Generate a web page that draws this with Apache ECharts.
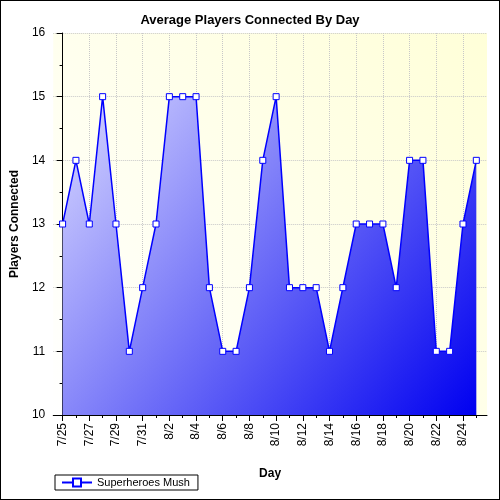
<!DOCTYPE html><html><head><meta charset="utf-8"><script src="https://cdn.jsdelivr.net/npm/echarts@6/dist/echarts.min.js"></script></head><body style="margin:0"><div id="c" style="width:500px;height:500px;box-sizing:border-box;border:1px solid #000"></div><script>
const days=['7/25','7/26','7/27','7/28','7/29','7/30','7/31','8/1','8/2','8/3','8/4','8/5','8/6','8/7','8/8','8/9','8/10','8/11','8/12','8/13','8/14','8/15','8/16','8/17','8/18','8/19','8/20','8/21','8/22','8/23','8/24','8/25'];
const players=[13,14,13,15,13,11,12,13,15,15,15,12,11,11,12,14,15,12,12,12,11,12,13,13,13,12,14,14,11,11,13,14];
const yTicks=[10,11,12,13,14,15,16];
const major=days.map((d,i)=>i).filter(i=>i%2===0);
const all=days.map((d,i)=>i);
const ch=echarts.init(document.getElementById('c'));
const font='Arial, Liberation Sans';
ch.setOption({
 animation:false,
 title:{text:'Average Players Connected By Day',left:'center',top:8,textStyle:{fontSize:13,fontWeight:'bold',color:'#000',fontFamily:font}},
 legend:{left:54,bottom:9,itemWidth:30,itemHeight:10,borderColor:'#000',borderWidth:1,borderRadius:0,padding:[2,8,2,6],textStyle:{fontSize:11,color:'#000',fontFamily:font},data:['Superheroes Mush']},
 grid:{left:51,right:12,top:32,bottom:84,show:true,borderWidth:0,
  backgroundColor:new echarts.graphic.LinearGradient(0,1,1,0,[{offset:0,color:'#ffffff'},{offset:1,color:'#ffffd8'}])},
 xAxis:[{type:'value',min:-0.7,max:31.8,name:'Day',nameLocation:'middle',nameGap:53,nameTextStyle:{fontSize:12,fontWeight:'bold',color:'#000',fontFamily:font},
  axisLine:{lineStyle:{color:'#000'}},
  axisTick:{customValues:major,length:6,lineStyle:{color:'#000'}},
  axisLabel:{customValues:major,formatter:v=>days[v],rotate:90,fontSize:12,color:'#000',fontFamily:font,margin:8},
  splitLine:{show:true,customValues:major,lineStyle:{type:'dotted',color:'#c8c8c8'}}},
  {type:'value',min:-0.7,max:31.8,position:'bottom',axisLine:{show:false},axisLabel:{show:false},splitLine:{show:false},
  axisTick:{customValues:all,length:3,lineStyle:{color:'#000'}}}],
 yAxis:{type:'value',min:10,max:16,interval:1,name:'Players Connected',nameLocation:'middle',nameGap:32,nameTextStyle:{fontSize:12,fontWeight:'bold',color:'#000',fontFamily:font},
  axisLine:{show:true,lineStyle:{color:'#000'}},axisTick:{show:true,length:6,lineStyle:{color:'#000'}},
  minorTick:{show:true,splitNumber:2,length:3,lineStyle:{color:'#000'}},
  axisLabel:{fontSize:12,color:'#000',fontFamily:font,formatter:v=>yTicks.includes(v)?String(v):''},
  splitLine:{show:true,lineStyle:{type:'dotted',color:'#c8c8c8'}}},
 series:[{name:'Superheroes Mush',type:'line',data:players.map((v,i)=>[i,v]),symbol:'rect',symbolSize:6,showAllSymbol:true,
  lineStyle:{color:'#0000ff',width:1.5},itemStyle:{color:'#fff',borderColor:'#0000ff',borderWidth:1},
  areaStyle:{opacity:1,origin:'start',color:new echarts.graphic.LinearGradient(0,0,1,1,[{offset:0,color:'#d8d8ff'},{offset:1,color:'#0000f0'}])}}]
});
</script></body></html>
